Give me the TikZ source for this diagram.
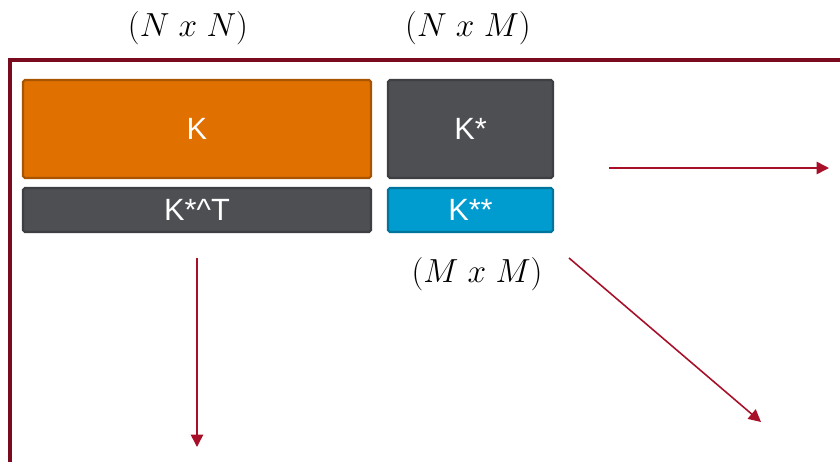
\RequirePackage{fix-cm}
\documentclass[tikz,border=0pt]{standalone}
\usepackage{amsmath,amssymb}
\usepackage{fontspec}
\setsansfont{Liberation Sans}
\usetikzlibrary{arrows.meta,positioning,calc}
\definecolor{kred}{HTML}{7A0A1E}
\definecolor{arrred}{HTML}{A8102A}
\definecolor{korange}{HTML}{E07000}
\definecolor{kgray}{HTML}{4D4F53}
\definecolor{kblue}{HTML}{009BCF}

\begin{document}
\begin{tikzpicture}[
    x=0.02cm, y=-0.02cm,
    box/.style={rectangle, draw, line width=1.2pt, rounded corners=1pt, inner sep=0pt, text=white, font=\sffamily\fontsize{17.5}{20}\selectfont},
    dim/.style={font=\fontsize{19}{22}\selectfont},
    arr/.style={draw=arrred, line width=0.9pt, -{Triangle[length=7pt,width=7pt]}},
]
    \useasboundingbox (0,0) rectangle (840,461);
    \draw[kred, line width=1.8pt] (10,470) |- (850,60);

    \node[box, fill=korange, draw=korange!75!black, minimum width=6.96cm, minimum height=1.96cm] (k) at (197,129) {K};
    \node[box, fill=kgray, draw=kgray!80!black, minimum width=6.96cm, minimum height=0.88cm] (kst) at (197,210) {K*\^{}T};
    \node[box, fill=kgray, draw=kgray!80!black, minimum width=3.3cm, minimum height=1.96cm] (ks) at (470.5,129) {K*};
    \node[box, fill=kblue, draw=kblue!75!black, minimum width=3.3cm, minimum height=0.88cm] (kss) at (470.5,210) {K**};

    \node[dim] (nn) at (188,28) {$(N\;x\;N)$};
    \node[dim] (nm) at (468,28) {$(N\;x\;M)$};
    \node[dim] (mm) at (477,274) {$(M\;x\;M)$};

    \coordinate (a1s) at (609,168);
    \coordinate (a1e) at (829,168);
    \coordinate (a2s) at (197,258);
    \coordinate (a2e) at (197,447);
    \coordinate (a3s) at (569,258);
    \coordinate (a3e) at (761,422);
    \draw[arr] (a1s) -- (a1e);
    \draw[arr] (a2s) -- (a2e);
    \draw[arr] (a3s) -- (a3e);
\end{tikzpicture}
\end{document}
